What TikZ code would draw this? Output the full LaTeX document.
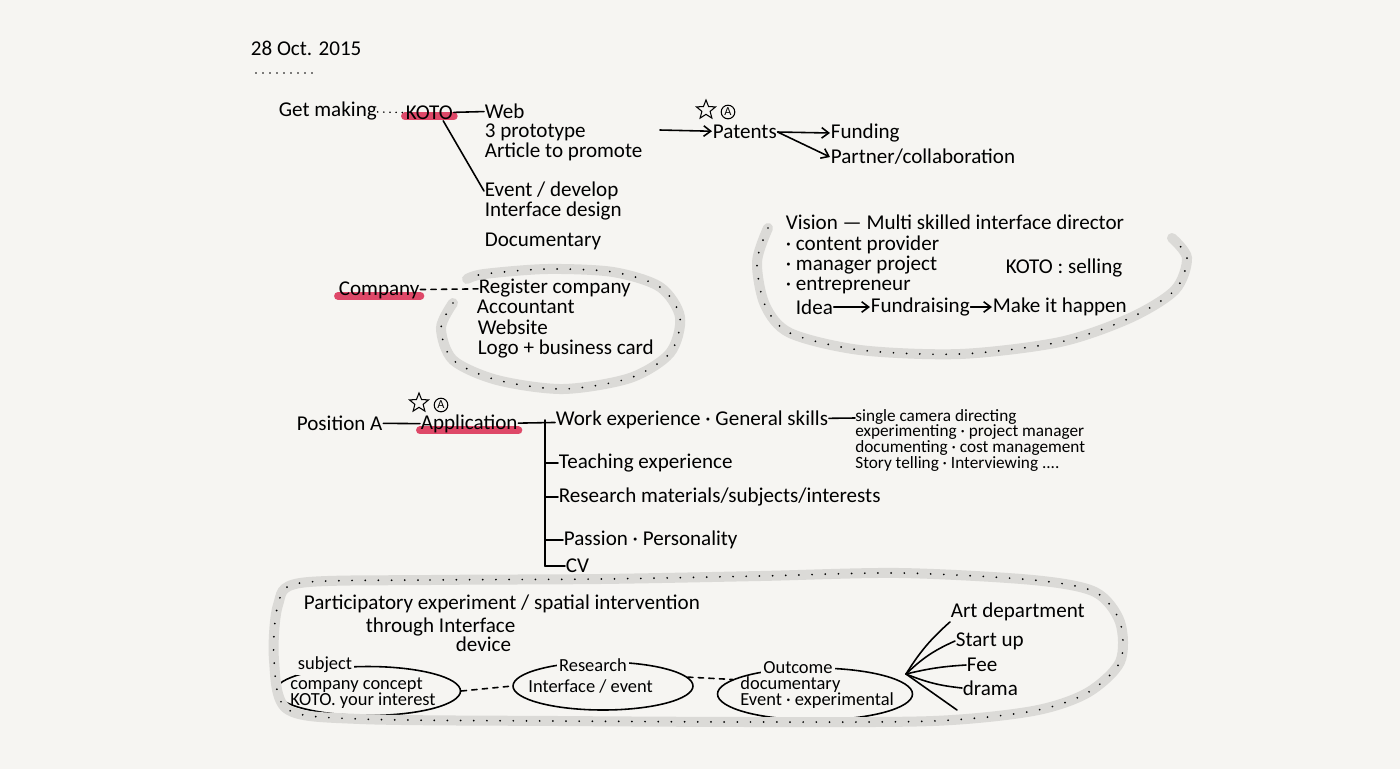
\documentclass[tikz,border=0pt]{standalone}
\usepackage{fontspec}
\setmainfont{Carlito}
\usetikzlibrary{shapes.geometric,arrows.meta,backgrounds}
\definecolor{paper}{RGB}{246,245,242}
\definecolor{markred}{RGB}{222,72,104}
\definecolor{bandgray}{RGB}{219,218,215}
\tikzset{
  hand/.style={anchor=west, inner sep=0.3pt, font=\fontsize{12}{13}\selectfont},
  smallhand/.style={hand, inner sep=0pt, font=\fontsize{9.8}{10}\selectfont},
  bubbletext/.style={hand, inner sep=0pt, font=\fontsize{10.5}{11}\selectfont},
  ink/.style={line width=0.9pt, line cap=round},
  inkarrow/.style={ink, -{Straight Barb[length=4pt,width=6pt]}},
  marker/.style={line width=4.5pt, draw=markred, line cap=round},
  band/.style={line width=2mm, draw=bandgray, line cap=round,
    postaction={draw=black, line width=1.1pt, dash pattern=on 0pt off 7.5pt, line cap=round}},
  bubble/.style={ellipse, draw, line width=0.9pt, inner sep=0pt},
  bubblelabel/.style={bubbletext, anchor=center, fill=paper, inner sep=1.2pt},
  starmark/.style={star, star points=5, star point ratio=2.3, draw, line width=0.6pt,
    minimum size=0.4cm, inner sep=0pt},
  circA/.style={circle, draw, line width=0.6pt, inner sep=0.6pt, font=\fontsize{7}{7}\selectfont}
}
\begin{document}
\begin{tikzpicture}[x=0.02cm, y=-0.02cm]
    \useasboundingbox (0,0) rectangle (1400,769);

    % Date
    \node[hand] (date) at (250,48) {28 Oct. 2015};
    \foreach \i in {0,...,8} \fill (256+\i*7,73) circle (0.5pt);

    % KOTO branch
    \node[hand] (getmaking) at (278,111) {Get making};
    \node[hand] (koto) at (405,113) {KOTO};
    \node[hand] (web) at (484,111) {Web};
    \node[hand] (proto) at (484,132) {3 prototype};
    \node[hand] (article) at (484,152) {Article to promote};
    \node[hand] (event) at (484,191) {Event / develop};
    \node[hand] (iface) at (484,211) {Interface design};
    \node[hand] (docu) at (484,241) {Documentary};
    \draw[line width=1pt, dash pattern=on 0pt off 3.5pt, line cap=round] (getmaking) -- (koto);
    \draw[ink] (koto) -- (web);
    \draw[ink] ([xshift=-6pt]koto.south east) -- (event.west);

    % Patents
    \coordinate (kotoout) at (660,130);
    \node[hand] (patents) at (712,132) {Patents};
    \node[starmark] (star1) at (706,110) {};
    \node[circA] (circ1) at (728,112) {A};
    \node[hand] (funding) at (830,133) {Funding};
    \node[hand] (partner) at (830,157) {Partner/collaboration};
    \draw[inkarrow] (kotoout) -- (patents);
    \draw[inkarrow] (patents.east) -- (funding.west);
    \draw[inkarrow] (patents.east) -- (partner.west);

    % Vision
    \node[hand] (vision) at (785,222) {Vision --- Multi skilled interface director};
    \node[hand] (content) at (785,245) {· content provider};
    \node[hand] (manager) at (785,265) {· manager project};
    \node[hand] (entre) at (785,286) {· entrepreneur};
    \node[hand] (kotosell) at (1005,268) {KOTO : selling};
    \node[hand] (idea) at (795,307) {Idea};
    \node[hand] (fundr) at (870,307) {Fundraising};
    \node[hand] (makeit) at (992,307) {Make it happen};
    \draw[inkarrow] (idea) -- (fundr);
    \draw[inkarrow] (fundr) -- (makeit);
    \draw[band] plot[smooth] coordinates {(768,228) (757,262) (765,305) (790,333) (860,350)
      (960,354) (1060,342) (1130,318) (1175,290) (1187,258) (1172,238)};

    % Company
    \node[hand] (company) at (338,290) {Company};
    \node[hand] (regc) at (478,288) {Register company};
    \node[hand] (accountant) at (476,307) {Accountant};
    \node[hand] (website) at (477,327) {Website};
    \node[hand] (logo) at (477,349) {Logo + business card};
    \draw[ink, dashed] (company) -- (regc);
    \draw[band] plot[smooth] coordinates {(453,303) (441,328) (453,360) (497,380) (563,389)
      (630,378) (670,353) (680,317) (660,287) (613,272) (547,269) (484,274) (467,279)};

    % Application
    \node[hand] (posA) at (296,423) {Position A};
    \node[hand] (app) at (420,424) {Application};
    \node[starmark] (star2) at (419,403) {};
    \node[circA] (circ2) at (441,405) {A};
    \node[hand] (work) at (555,420) {Work experience · General skills};
    \node[smallhand] (single) at (855,417) {single camera directing};
    \node[smallhand] (exper) at (855,432) {experimenting · project manager};
    \node[smallhand] (docum) at (855,448) {documenting · cost management};
    \node[smallhand] (story) at (855,464) {Story telling · Interviewing ....};
    \node[hand] (teach) at (558,463) {Teaching experience};
    \node[hand] (research) at (558,497) {Research materials/subjects/interests};
    \node[hand] (passion) at (563,540) {Passion · Personality};
    \node[hand] (cv) at (565,566) {CV};
    \coordinate (trunk) at (545,420);
    \draw[ink] (posA) -- (app);
    \draw[ink] (app) -- (work);
    \draw[ink] (work) -- (single);
    \draw[ink] (trunk) -- (trunk |- cv.west);
    \foreach \n in {teach,research,passion,cv}
        \draw[ink] (trunk |- \n.west) -- (\n.west);

    % Participatory experiment
    \node[hand] (partic) at (303,604) {Participatory experiment / spatial intervention};
    \node[hand] (through) at (365,627) {through Interface};
    \node[hand] (device) at (455,644) {device};
    \node[bubble, minimum width=3.7cm, minimum height=0.98cm] (subjE) at (368,691) {};
    \node[bubble, minimum width=3.6cm, minimum height=0.96cm] (resE) at (603,686) {};
    \node[bubble, minimum width=3.9cm, minimum height=1.04cm] (outE) at (815,694) {};
    \node[bubblelabel] (subj) at (325,665) {subject};
    \node[bubbletext] (concept) at (290,685) {company concept};
    \node[bubbletext] (interest) at (290,701) {KOTO. your interest};
    \node[bubblelabel] (resl) at (593,665) {Research};
    \node[bubbletext] (ifev) at (528,686) {Interface / event};
    \node[bubblelabel] (outl) at (798,668) {Outcome};
    \node[bubbletext] (outdoc) at (740,685) {documentary};
    \node[bubbletext] (outev) at (740,701) {Event · experimental};
    \draw[ink, dashed] (subjE.east) -- (resE.west);
    \draw[ink, dashed] (resE.6) -- (outE.170);

    % Fan of outcomes
    \coordinate (hub) at (906,674);
    \node[hand] (art) at (950,612) {Art department};
    \node[hand] (startup) at (955,641) {Start up};
    \node[hand] (fee) at (966,665) {Fee};
    \node[hand] (drama) at (962,688) {drama};
    \coordinate (fanend) at (957,710);
    \draw[ink] (hub) to[bend left=8] (art.south west);
    \draw[ink] (hub) to[bend left=10] (startup.west);
    \draw[ink] (hub) to[bend left=5] (fee.west);
    \draw[ink] (hub) to[bend right=8] (drama.west);
    \draw[ink] (hub) -- (fanend);
    \draw[band] plot[smooth cycle] coordinates {(300,583) (430,580) (600,579) (760,576)
      (900,573) (1033,580) (1095,592) (1120,622) (1120,662) (1087,693) (1033,711) (933,721)
      (760,722) (560,721) (360,719) (287,709) (274,660) (278,605)};

    % Paper and marker strokes
    \begin{scope}[on background layer]
        \fill[paper] (0,0) rectangle (1400,769);
        \draw[marker] ([yshift=2.5pt]koto.south west) -- ([yshift=2.5pt]koto.south east);
        \draw[marker] ([yshift=2pt]company.south west) -- ([yshift=2pt]company.south east);
        \draw[marker] ([yshift=2pt]app.south west) -- ([yshift=2pt]app.south east);
    \end{scope}
\end{tikzpicture}
\end{document}
